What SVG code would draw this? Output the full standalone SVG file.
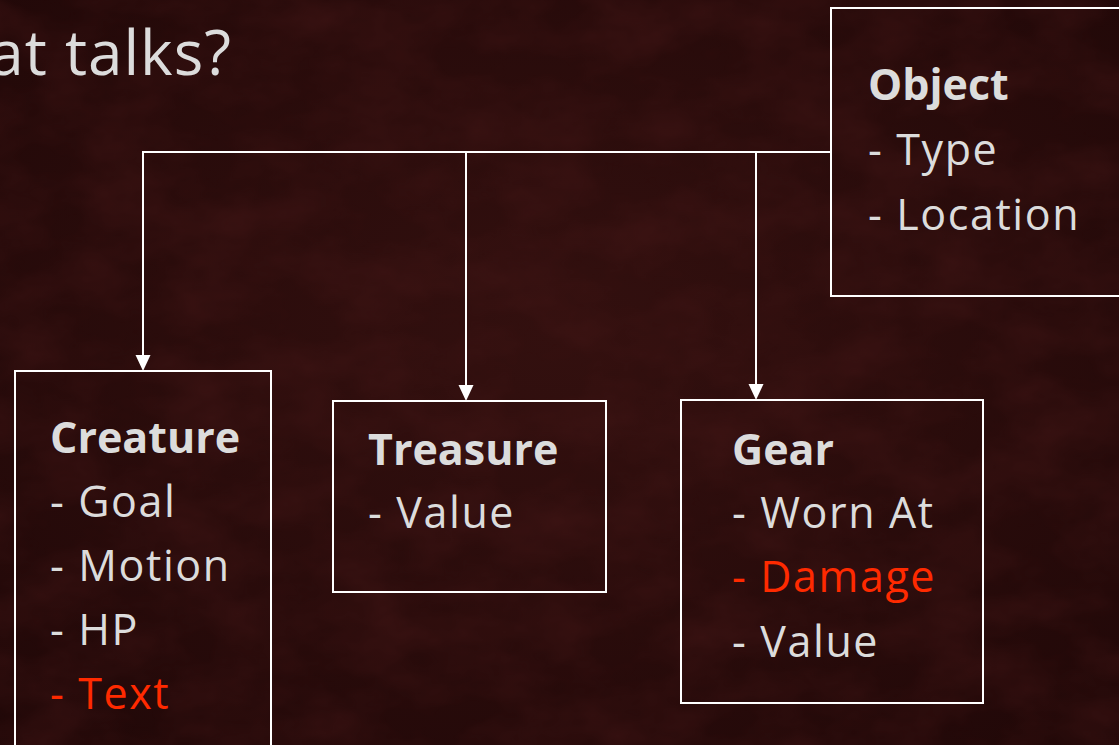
<svg xmlns="http://www.w3.org/2000/svg" width="1119" height="745" viewBox="0 0 1119 745">
<defs>
<style>
.box{fill:none;stroke:#ffffff;stroke-width:2}
.t{font-family:"Open Sans",Lato,"Liberation Sans",sans-serif;font-size:43px;fill:#dcdcdc;letter-spacing:1.6px}
.b{font-weight:bold;letter-spacing:0}
.r{fill:#ff2a00}
.ln{fill:none;stroke:#ffffff;stroke-width:2}
.ah{fill:#ffffff}
</style>
<filter id="tex" x="0" y="0" width="100%" height="100%">
<feTurbulence type="fractalNoise" baseFrequency="0.012 0.02" numOctaves="4" seed="7" result="n"/>
<feColorMatrix in="n" type="matrix" values="0 0 0 0 0.07  0 0 0 0 0.01  0 0 0 0 0.01  0 0 0 -1.6 1.1"/>
</filter>
<radialGradient id="bg" cx="0.5" cy="0.45" r="0.8">
<stop offset="0" stop-color="#33100f"/>
<stop offset="1" stop-color="#1f0707"/>
</radialGradient>
</defs>
<rect width="1119" height="745" fill="url(#bg)"/>
<rect width="1119" height="745" filter="url(#tex)" opacity="0.45"/>
<text class="t" x="232" y="75" text-anchor="end" style="font-size:62px;letter-spacing:1px">at talks?</text>
<g id="connectors">
<polyline class="ln" points="831,152 143,152 143,358"/>
<line class="ln" x1="466" y1="152" x2="466" y2="388"/>
<line class="ln" x1="756" y1="152" x2="756" y2="387"/>
<path class="ah" d="M135.5,355 L150.5,355 L143,371 Z"/>
<path class="ah" d="M458.5,385 L473.5,385 L466,401 Z"/>
<path class="ah" d="M748.5,384 L763.5,384 L756,400 Z"/>
</g>
<g id="object">
<rect class="box" x="831" y="8" width="292" height="288"/>
<text class="t b" x="868" y="100">Object</text>
<text class="t" x="868" y="165">- Type</text>
<text class="t" x="868" y="230">- Location</text>
</g>
<g id="creature">
<rect class="box" x="15" y="371" width="256" height="390"/>
<text class="t b" x="50" y="453">Creature</text>
<text class="t" x="50" y="517">- Goal</text>
<text class="t" x="50" y="581">- Motion</text>
<text class="t" x="50" y="645">- HP</text>
<text class="t r" x="50" y="709">- Text</text>
</g>
<g id="treasure">
<rect class="box" x="333" y="401" width="273" height="191"/>
<text class="t b" x="368" y="465">Treasure</text>
<text class="t" x="368" y="528">- Value</text>
</g>
<g id="gear">
<rect class="box" x="681" y="400" width="302" height="303"/>
<text class="t b" x="732" y="465">Gear</text>
<text class="t" x="732" y="528">- Worn At</text>
<text class="t r" x="732" y="592">- Damage</text>
<text class="t" x="732" y="657">- Value</text>
</g>
</svg>
